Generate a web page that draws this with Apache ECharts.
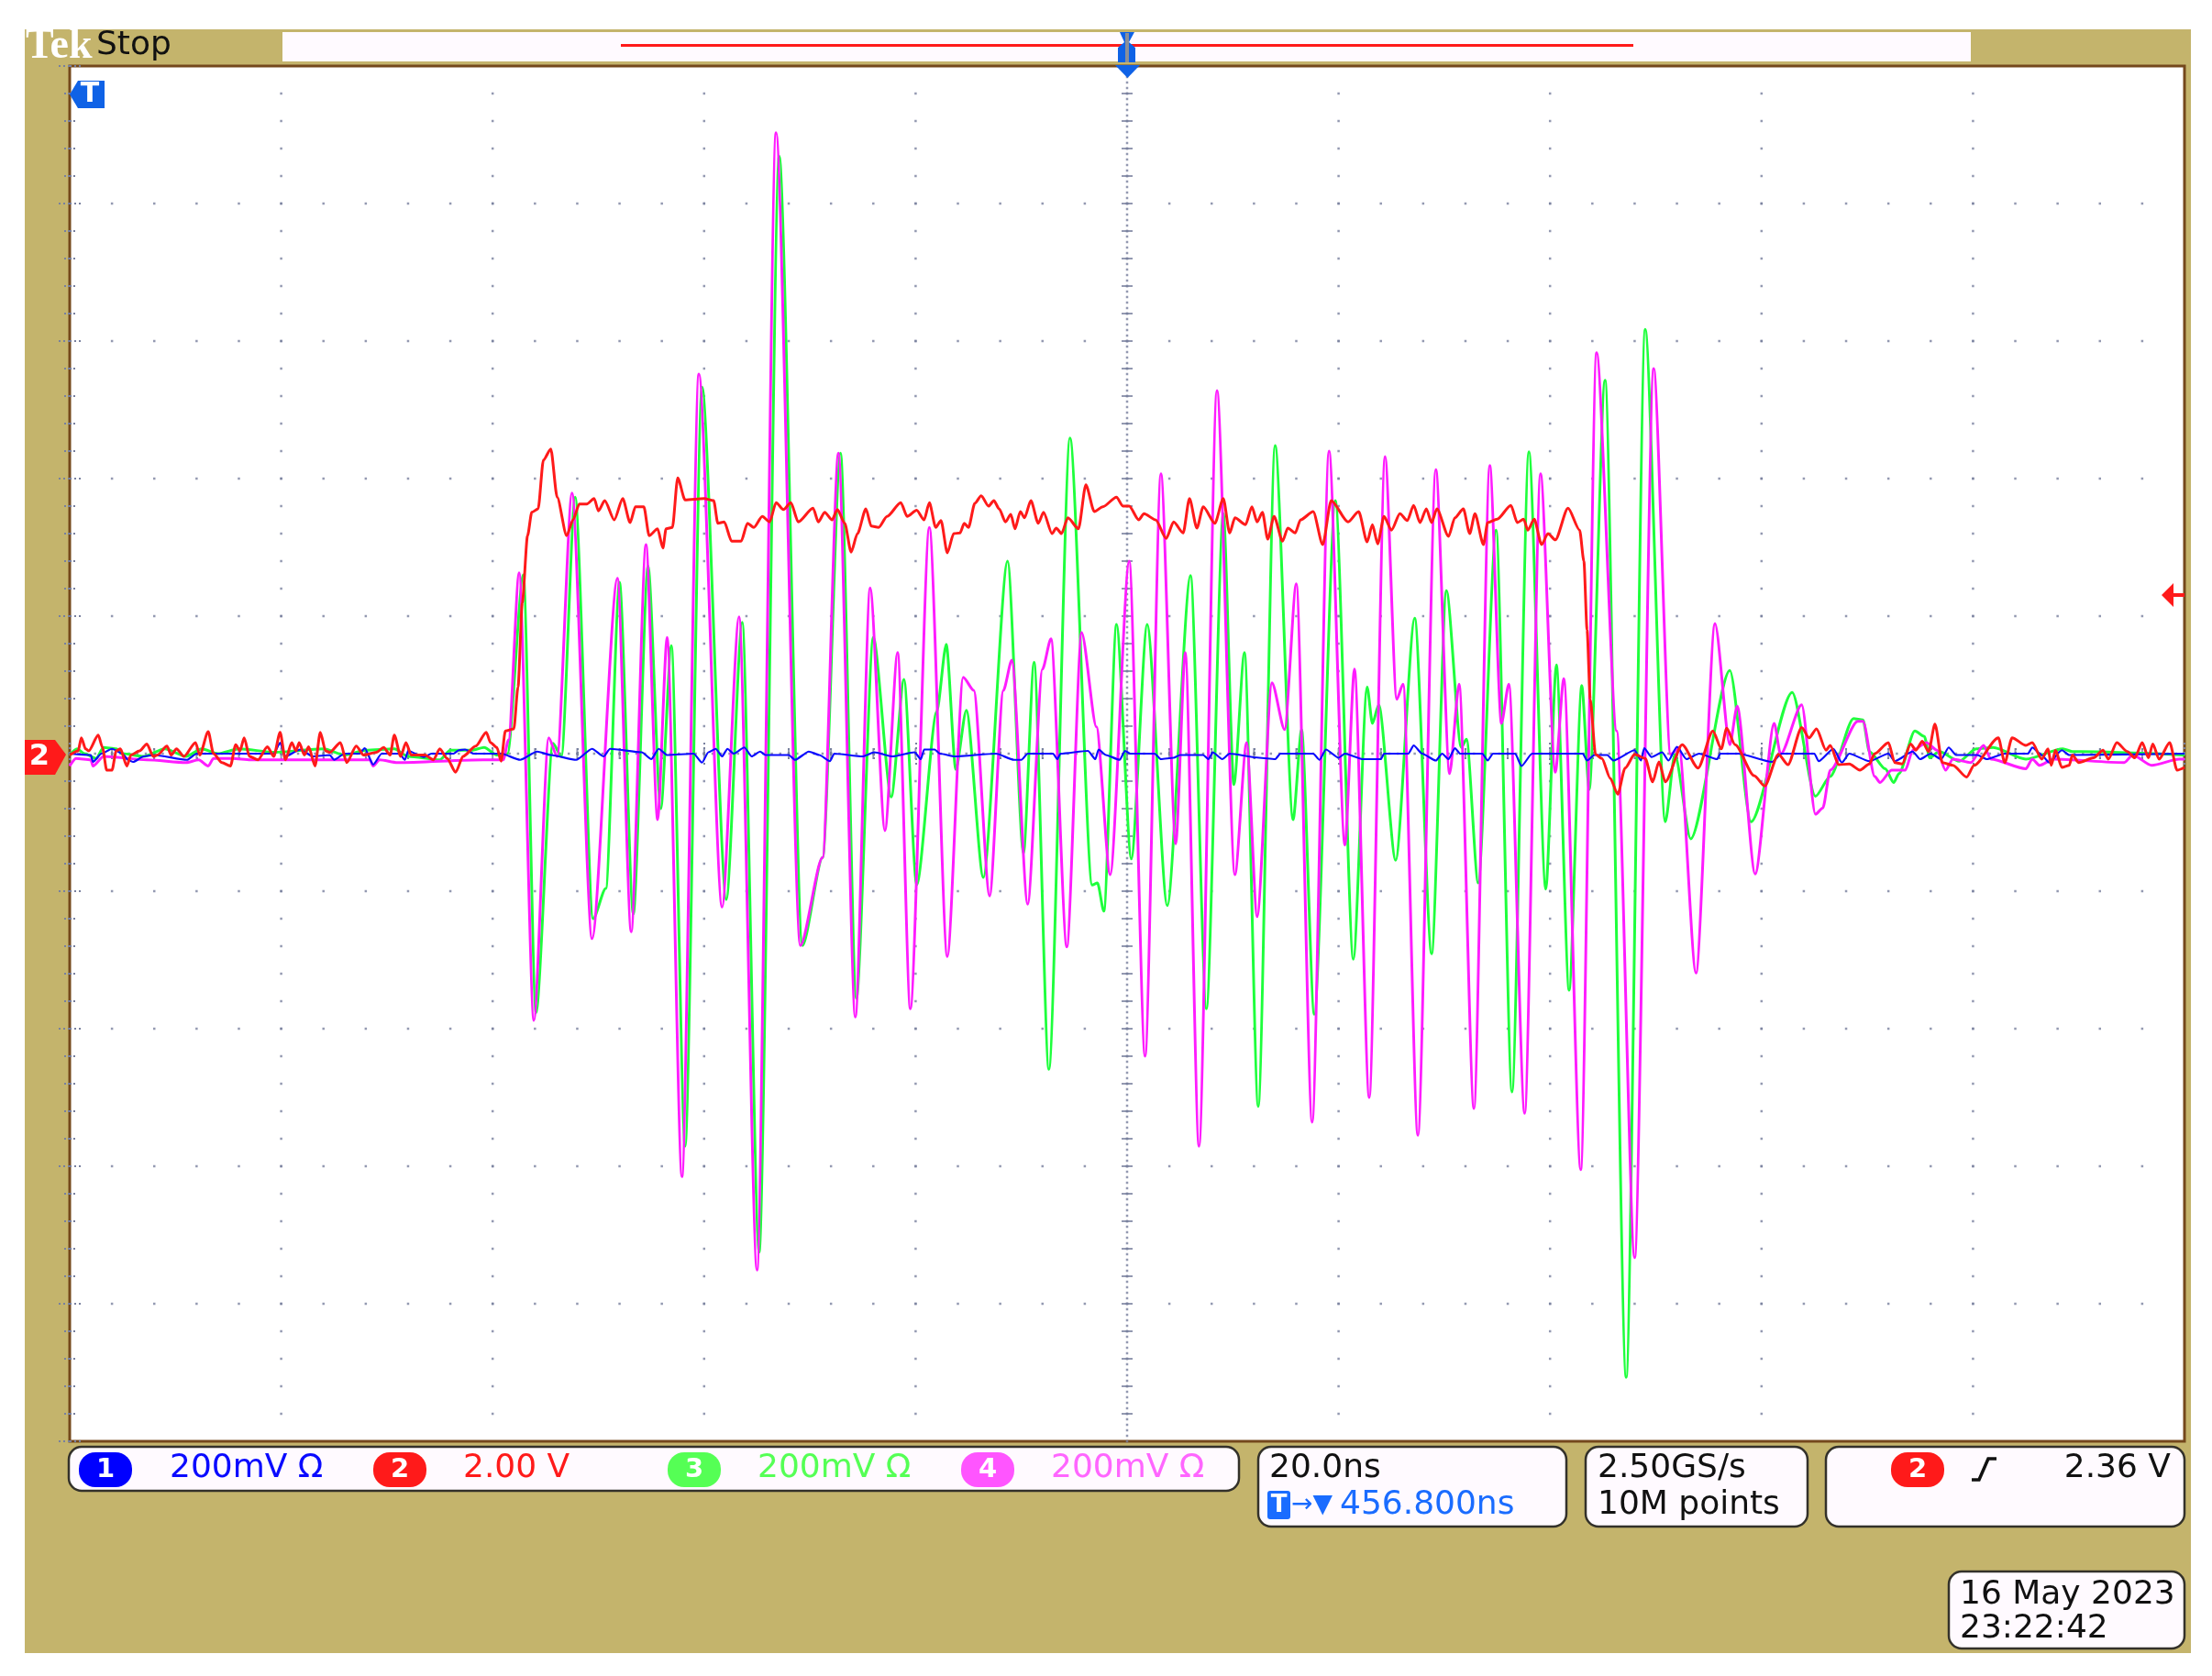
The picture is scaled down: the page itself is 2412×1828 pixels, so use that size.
<!DOCTYPE html>
<html>
<head>
    <title>Tek scope capture</title>
    <meta charset="utf-8"/>
    <script src="https://cdn.jsdelivr.net/npm/echarts@6/dist/echarts.min.js"></script>
    <style>
        html, body { margin: 0; padding: 0; background: #fff; }
        #myChart { width: 2412px; height: 1828px; }
    </style>
</head>
<body>
<div id="myChart"></div>
<script type="text/javascript">
    // all traces are [time ns, value]. CH1/3/4 in mV, CH2 in V
    var timeRange = [0, 200];
    var timeStep = 20;
    var mvRange = [-1000, 1000];
    var mvStep = 200;
    var voltRange = [-10, 10];
    var voltStep = 2;
    var triggerLevel = 2.36;

    var ch1Points = [[0,0],[2,-2],[2.2,-12],[3,0],[4,7],[5,0],[5.5,-9],[6,-12],[7,-4],[8,-2],[11.1,-9],[12,0],[19.3,0],[19.9,16],[20.4,-4],[21.8,6],[23,-4],[24.6,-2],[25,-9],[26,0],[27.4,0],[27.9,8],[28.7,-16],[29.5,0],[31.2,0],[31.7,-9],[32,4],[33.5,-5],[34.2,0],[36.3,0],[36.8,5],[37.4,6],[38.2,0],[40.8,0],[42.6,-9],[44.2,3],[45.5,-2],[47.9,-9],[49.4,7],[50.5,-4],[51.1,7],[54.1,2],[55,-8],[55.7,7],[56.5,-2],[59,0],[59.8,-13],[60.4,2],[61.1,7],[61.7,-4],[62.2,7],[62.8,0],[63.8,9],[64.5,-4],[65.3,3],[65.8,-2],[68,-2],[68.6,-9],[69.9,3],[70.9,-2],[71.9,-11],[72.3,0],[75,-4],[76.1,2],[77.8,-4],[79.9,2],[80.5,-8],[80.8,6],[81.8,6],[82.3,0],[83.7,-4],[87.6,0],[89.3,-9],[90,-9],[90.6,0],[93,0],[93.4,-8],[93.7,0],[96.3,4],[97,-8],[97.3,6],[98,-2],[99.3,-9],[99.8,4],[100.3,0],[102.6,0],[103.2,-8],[104.4,-6],[105,-2],[107.2,-2],[107.7,-8],[108.1,2],[109,-8],[109.7,0],[112.5,-6],[114,-8],[114.5,0],[117.6,0],[118.2,-9],[118.8,6],[120,-6],[120.6,0],[122.3,-8],[124,-8],[124.3,0],[126.6,0],[127.1,12],[127.9,0],[129.2,-10],[129.8,0],[130.4,-8],[131,8],[131.5,0],[133.6,0],[134.1,-10],[134.6,0],[136.7,0],[137.3,-18],[138.3,0],[143.1,0],[143.5,-10],[144.2,-2],[145.4,-2],[146,-10],[148,5],[148.6,-10],[148.9,8],[149.6,-5],[150.6,2],[151.2,-10],[152,10],[152.9,-8],[154.1,0],[155.8,-8],[156.1,0],[157.8,0],[161,-12],[161.9,0],[165,0],[165.4,-11],[166.8,7],[167.6,-13],[168.3,0],[170.2,-11],[172,0],[172.6,-11],[174.3,3],[175,-8],[176,0],[177,-8],[177.7,9],[178.4,-2],[180.4,-2],[181.3,-8],[183,0],[185.2,0],[185.6,9],[186.5,-2],[187.2,-13],[188.4,5],[189.1,-2],[200,0]];

    var ch2Points = [[0,-0.02],[0.8,0.04],[1.1,0.23],[1.5,0.07],[1.8,0.04],[2.7,0.27],[3.1,0.09],[3.5,-0.24],[4,-0.24],[4.4,0.04],[4.8,0.07],[5.4,-0.18],[5.8,-0.02],[6.6,0.04],[7.3,0.14],[7.9,-0.04],[8.3,-0.02],[9.2,0.11],[9.6,-0.02],[10.1,0.07],[10.8,-0.04],[11.9,0.16],[12.3,-0.02],[13.1,0.32],[13.6,0],[14.4,-0.13],[15.2,-0.18],[15.7,0.13],[16.1,0.04],[16.5,0.23],[17,-0.04],[17.8,-0.09],[18.7,0.1],[19.3,-0.04],[19.9,0.31],[20.4,-0.09],[21,0.16],[21.4,0.04],[21.7,0.16],[22.2,-0.02],[22.6,0.1],[23.2,-0.18],[23.7,0.31],[24.2,0.04],[24.6,0.02],[25.6,0.16],[26.2,-0.13],[27.1,0.11],[27.8,-0.02],[29,0.02],[29.7,0.09],[30.3,-0.02],[30.7,0.27],[31.3,-0.04],[31.8,0.16],[32.3,-0.02],[33.6,-0.02],[34.4,-0.09],[35,0.07],[35.7,-0.07],[36.5,-0.27],[37.2,-0.04],[38.4,0.11],[39.4,0.31],[39.8,0.16],[40.4,0.09],[40.8,-0.11],[41.2,0.33],[42,0.36],[42.4,0.97],[42.8,2.19],[43.3,3.17],[43.7,3.51],[44.3,3.56],[44.8,4.27],[45.5,4.43],[46.1,3.73],[47,3.17],[47.6,3.4],[48.2,3.63],[48.9,3.63],[49.6,3.71],[50,3.53],[50.6,3.68],[51.5,3.4],[52.3,3.71],[53,3.36],[53.5,3.59],[54.3,3.59],[54.8,3.17],[55.6,3.27],[56.1,2.99],[56.4,3.27],[57,3.29],[57.5,4.01],[58.2,3.69],[60,3.71],[60.9,3.68],[61.3,3.35],[61.9,3.37],[62.6,3.09],[63.5,3.09],[64.1,3.35],[64.7,3.29],[65.5,3.45],[66.2,3.37],[66.8,3.65],[67.5,3.55],[68.2,3.65],[68.9,3.37],[70.3,3.57],[70.8,3.37],[71.4,3.51],[72.1,3.4],[72.6,3.55],[73.3,3.35],[73.9,2.93],[74.5,3.2],[75.3,3.56],[75.8,3.31],[76.5,3.29],[77.3,3.45],[78.6,3.65],[79.2,3.45],[80.1,3.54],[80.8,3.4],[81.3,3.65],[81.9,3.29],[82.4,3.39],[83,2.92],[83.6,3.2],[84.2,3.21],[84.6,3.35],[85,3.29],[85.6,3.64],[86.2,3.75],[86.9,3.6],[87.4,3.68],[87.9,3.56],[88.5,3.37],[89,3.48],[89.4,3.27],[89.9,3.52],[90.3,3.43],[90.9,3.68],[91.6,3.35],[92.1,3.51],[92.9,3.2],[93.3,3.28],[93.8,3.2],[94.4,3.43],[95.4,3.27],[96.1,3.91],[96.9,3.52],[97.7,3.59],[99,3.73],[99.6,3.6],[100.2,3.6],[101.1,3.4],[101.6,3.49],[102.7,3.4],[103.7,3.13],[104.4,3.37],[105.3,3.21],[105.9,3.71],[106.6,3.28],[107.2,3.59],[108.3,3.35],[109.1,3.71],[109.7,3.21],[110.2,3.43],[111.2,3.33],[111.8,3.59],[112.3,3.37],[112.8,3.51],[113.3,3.12],[113.9,3.45],[114.7,3.09],[115.2,3.28],[115.9,3.21],[116.4,3.4],[117.6,3.52],[118.5,3.04],[119.3,3.68],[120.9,3.37],[121.9,3.52],[122.7,3.08],[123.2,3.33],[123.7,3.05],[124.3,3.45],[125,3.25],[125.8,3.49],[126.5,3.39],[127.1,3.61],[127.7,3.36],[128.3,3.56],[128.8,3.36],[129.3,3.56],[130.4,3.16],[131,3.43],[131.8,3.56],[132.4,3.2],[132.9,3.49],[133.7,3.04],[134.1,3.36],[135,3.41],[136.3,3.61],[136.9,3.36],[137.5,3.41],[137.9,3.25],[138.5,3.41],[139.2,3.04],[139.8,3.2],[140.5,3.11],[141.7,3.57],[142.8,3.25],[143.2,2.8],[143.5,1.8],[143.8,0.79],[144.3,-0.01],[144.9,-0.07],[145.7,-0.36],[146.4,-0.59],[147.1,-0.21],[148,-0.01],[149,-0.07],[149.7,-0.41],[150.3,-0.12],[150.9,-0.41],[152.5,0.13],[154,-0.21],[155.4,0.33],[156.2,0.07],[156.7,0.37],[157.5,0.13],[159.3,-0.32],[160.3,-0.47],[161.6,-0.01],[162.5,-0.16],[163.8,0.38],[164.5,0.23],[165.2,0.36],[166.1,0.05],[166.5,0.12],[167.3,-0.16],[168.3,-0.15],[169.3,-0.24],[170.2,-0.15],[170.7,0],[172,0.16],[172.6,-0.13],[173.3,-0.15],[174.1,0.14],[174.6,0.05],[175.2,0.18],[175.8,0.03],[176.4,0.43],[177.1,-0.13],[178.1,-0.17],[179.4,-0.34],[180.1,-0.17],[182.4,0.23],[183,-0.13],[183.7,0.23],[185,0.12],[185.6,0.16],[186.5,-0.08],[187.1,0.07],[187.4,-0.17],[187.8,0.05],[188.4,-0.2],[189.1,-0.17],[189.4,-0.02],[190,-0.13],[191.4,-0.06],[192.3,0.05],[192.8,-0.08],[193.6,0.16],[194.6,0.03],[195.3,-0.06],[196,0.16],[196.6,-0.06],[197,0.14],[197.6,-0.08],[198.6,0.16],[199.3,-0.24],[200,-0.2]];

    var ch3Points = [[0,-2],[0.7,7],[1.4,0],[2.5,-7],[3.2,9],[4.4,7],[5,0],[7,-4],[9,7],[11,-4],[12.5,7],[14,0],[16,7],[19.4,2],[24,7],[26,-2],[28,5],[30.7,7],[32,-4],[35,-9],[36,5],[38,5],[39.2,9],[40.4,-2],[41.4,0],[42.9,260],[44.1,-377],[45.7,15],[46.5,-4],[47.8,373],[49.5,-240],[50.7,-196],[52,249],[53.3,-233],[54.7,273],[55.9,-80],[56.9,157],[58.2,-571],[59.8,533],[62.1,-212],[63.6,191],[65.2,-725],[67.1,869],[69.3,-279],[71.2,-151],[72.9,437],[74.4,-356],[76,169],[77.7,-63],[78.9,108],[80.1,-191],[82,61],[82.9,159],[83.8,-23],[84.8,63],[86.4,-180],[88.7,280],[90.2,-145],[91.2,133],[92.6,-459],[94.6,459],[96.7,-191],[97.2,-188],[97.8,-229],[99,188],[100.4,-153],[101.9,188],[103.8,-221],[106,259],[107.5,-371],[109.1,349],[110.1,-45],[111.1,147],[112.4,-513],[114,448],[115.7,-96],[116.5,35],[117.7,-379],[119.7,368],[121.4,-299],[122.7,97],[123.2,44],[123.8,71],[125.4,-155],[127.2,197],[128.8,-291],[130.2,237],[131.6,9],[132.1,21],[133.2,-188],[134.9,325],[136.4,-492],[138,439],[139.6,-197],[140.6,129],[141.8,-344],[143,99],[143.7,-52],[145.2,543],[147.2,-907],[149,617],[150.9,-99],[151.8,-1],[153.3,-124],[157,121],[159,-99],[162.9,89],[165.1,-62],[166.5,-33],[168.7,51],[169.6,49],[170.2,3],[171.7,-22],[172.5,-42],[173,-29],[174.5,33],[175.4,25],[175.9,-6],[176.8,3],[178.7,-11],[180.3,7],[181.9,9],[185,-8],[188.5,7],[189.4,3],[190.2,3],[200,-2]];

    var ch4Points = [[0,-18],[0.6,-7],[2,-9],[2.2,-18],[3.2,-4],[7.3,-9],[11,-13],[12.2,-9],[13.1,-18],[13.6,-7],[15.4,-7],[17.1,-9],[19.4,-9],[23.2,-9],[28.4,-9],[28.7,-18],[29.3,-9],[31,-13],[39.1,-9],[41,-9],[41.5,20],[42.5,263],[43.9,-388],[45.3,23],[46.1,-4],[47.5,379],[49.4,-269],[51.8,255],[53.1,-259],[54.5,304],[55.6,-96],[56.5,169],[57.9,-615],[59.5,552],[61.7,-223],[63.3,199],[65,-751],[66.8,903],[69.1,-279],[71.2,-151],[72.7,437],[74.3,-383],[75.7,241],[77.1,-112],[78.3,147],[79.5,-371],[81.3,329],[83,-295],[84.5,111],[85.5,92],[87,-207],[88.3,92],[89.1,136],[90.6,-219],[92,123],[92.8,167],[94.3,-281],[95.7,176],[97.1,39],[98.4,-176],[100.2,280],[101.7,-440],[103.2,407],[104.6,-131],[105.5,147],[106.8,-571],[108.5,528],[110.2,-176],[111.3,16],[112.3,-237],[113.7,103],[114.9,35],[116,247],[117.5,-536],[119.1,440],[120.6,-133],[121.5,123],[122.9,-500],[124.4,432],[125.5,79],[126.1,101],[127.5,-555],[129.2,413],[130.5,-29],[131.4,101],[132.8,-516],[134.3,419],[135.4,44],[136.1,101],[137.6,-523],[139.1,407],[140.5,-27],[141.3,109],[142.9,-605],[144.4,583],[146.3,33],[148,-733],[149.8,560],[151.4,-1],[152.2,9],[153.8,-319],[155.6,189],[157,13],[157.7,69],[159.4,-175],[161.2,44],[161.8,-1],[163.8,71],[165.1,-88],[165.8,-79],[166.5,-24],[169.1,47],[169.6,47],[170.7,-33],[171.2,-42],[172.3,-24],[173.6,-24],[174.3,5],[175.6,16],[176.6,5],[177.4,-24],[178.1,-8],[179.8,-13],[181,12],[181.7,-8],[185,-22],[185.6,-8],[186.3,-17],[187.6,-8],[194.3,-13],[195.1,-2],[196.9,-17],[199.5,-8],[200,-8]];

    var TAN = '#c4b46c';
    var PAPER = '#fffaff';
    var BLUE = '#0a0aff';
    var RED = '#ff1a1a';
    var GREEN = '#1eff3c';
    var MAGENTA = '#ff1cff';
    var FONT = '"DejaVu Sans"';
    var DOT = '#78809e';

    // graticule: dots on the division lines, denser on the centre cross
    var graticule = [], centreDots = [], centreVTicks = [], centreHTicks = [];
    var t, v;
    for (t = timeRange[0] + timeStep; t < timeRange[1]; t += timeStep) {
        for (v = mvRange[0] + mvStep / 5; v < mvRange[1]; v += mvStep / 5) {
            graticule.push([t, v]);
        }
    }
    for (v = mvRange[0] + mvStep; v < mvRange[1]; v += mvStep) {
        for (t = timeRange[0] + timeStep / 5; t < timeRange[1]; t += timeStep / 5) {
            graticule.push([t, v]);
        }
    }
    for (v = mvRange[0]; v <= mvRange[1]; v += 8) { centreDots.push([100, v]); }
    for (t = timeRange[0]; t <= timeRange[1]; t += 0.8) { centreDots.push([t, 0]); }
    for (v = mvRange[0] + mvStep / 5; v < mvRange[1]; v += mvStep / 5) { centreVTicks.push([100, v]); }
    for (t = timeRange[0] + timeStep / 5; t < timeRange[1]; t += timeStep / 5) { centreHTicks.push([t, 0]); }

    var dotSeries = function (data, size) {
        return {
            type: 'scatter', data: data, symbol: 'rect', symbolSize: size, silent: true,
            itemStyle: { color: DOT }, animation: false, z: 1
        };
    };
    var traceSeries = function (data, color, width, yIndex, smooth, z) {
        return {
            type: 'line', data: data, yAxisIndex: yIndex, showSymbol: false, silent: true,
            smooth: smooth, smoothMonotone: 'x', z: z,
            lineStyle: { color: color, width: width, join: 'round' }
        };
    };
    var tickStyle = {
        axisLine: { show: false },
        axisLabel: { show: false },
        splitLine: { show: false },
        minorSplitLine: { show: false },
        axisTick: { show: true, inside: true, length: 15, lineStyle: { color: DOT, width: 2, type: [2, 3] } },
        minorTick: { show: true, splitNumber: 5, length: 7, lineStyle: { color: DOT, width: 2, type: [2, 2] } }
    };
    var makeXAxis = function (pos) {
        return Object.assign({ type: 'value', position: pos, min: timeRange[0], max: timeRange[1], interval: timeStep }, tickStyle);
    };
    var makeYAxis = function (pos, range, step) {
        return Object.assign({ type: 'value', position: pos, min: range[0], max: range[1], interval: step }, tickStyle);
    };

    // ---- scope furniture around the plot ----
    var label = function (x, y, text, color, size, extra) {
        return {
            type: 'text', x: x, y: y, z: 20,
            style: Object.assign({
                text: text, fill: color, font: (size || 36) + 'px ' + FONT, textVerticalAlign: 'middle'
            }, extra || {})
        };
    };
    var box = function (x, y, w, h) {
        return {
            type: 'rect', z: 10, shape: { x: x, y: y, width: w, height: h, r: 14 },
            style: { fill: PAPER, stroke: '#33312a', lineWidth: 2.5 }
        };
    };
    var badge = function (cx, cy, num, color) {
        return [{
            type: 'rect', z: 15, shape: { x: cx - 29, y: cy - 19, width: 58, height: 38, r: 18 },
            style: { fill: color }
        }, label(cx, cy, num, '#fff', 29, { textAlign: 'center', font: 'bold 29px ' + FONT })];
    };

    var furniture = [
        { type: 'rect', z: -1, shape: { x: 27, y: 32, width: 2362, height: 1771 }, style: { fill: TAN } },
        { type: 'rect', z: 1, shape: { x: 308, y: 35, width: 1841, height: 32 }, style: { fill: PAPER } },
        { type: 'rect', z: 2, shape: { x: 677, y: 48, width: 1104, height: 3 }, style: { fill: RED } },
        label(28, 51, 'Tek', '#fff', 46, { font: 'bold 46px "Liberation Serif"' }),
        label(105, 50, 'Stop', '#111', 36),

        // trigger position flag
        { type: 'polygon', z: 12, shape: { points: [[1221, 35], [1237, 35], [1231, 46], [1238, 52], [1238, 68], [1219, 68], [1219, 52], [1226, 46]] }, style: { fill: '#0f62e6' } },
        { type: 'rect', z: 13, shape: { x: 1227, y: 36, width: 4, height: 32 }, style: { fill: '#8a8f98' } },
        { type: 'polygon', z: 12, shape: { points: [[1216, 71], [1243, 71], [1229.5, 85]] }, style: { fill: '#0f62e6' } },

        // T marker top left
        { type: 'polygon', z: 12, shape: { points: [[76, 103], [85, 88], [114, 88], [114, 118], [85, 118]] }, style: { fill: '#0f62e6' } },
        label(98, 103, 'T', '#fff', 30, { textAlign: 'center', font: 'bold 30px ' + FONT }),

        // ch2 ground marker, trigger level arrow
        { type: 'polygon', z: 12, shape: { points: [[27, 807], [60, 807], [72, 823], [60, 845], [27, 845]] }, style: { fill: RED } },
        label(43, 826, '2', '#fff', 32, { textAlign: 'center', font: 'bold 32px ' + FONT }),
        { type: 'polygon', z: 12, shape: { points: [[2357, 649], [2370, 636], [2370, 647], [2382, 647], [2382, 651], [2370, 651], [2370, 662]] }, style: { fill: RED } },

        // readout boxes
        box(75, 1578, 1276, 48),
        label(185, 1602, '200mV Ω', BLUE),
        label(505, 1602, '2.00 V', RED),
        label(826, 1602, '200mV Ω', '#55ff55'),
        label(1146, 1602, '200mV Ω', '#ff66ff'),
        box(1372, 1578, 336, 87),
        label(1384, 1602, '20.0ns', '#111'),
        { type: 'rect', z: 15, shape: { x: 1382, y: 1626, width: 25, height: 31, r: 3 }, style: { fill: '#1a6cff' } },
        label(1394.5, 1642, 'T', '#fff', 26, { textAlign: 'center', font: 'bold 26px ' + FONT }),
        label(1408, 1642, '→▼', '#1a6cff', 28),
        label(1461, 1642, '456.800ns', '#1a6cff'),
        box(1729, 1578, 242, 87),
        label(1742, 1602, '2.50GS/s', '#111'),
        label(1742, 1642, '10M points', '#111'),
        box(1991, 1578, 391, 87),
        { type: 'polyline', z: 15, shape: { points: [[2150, 1614], [2158, 1614], [2168, 1591], [2177, 1591]] }, style: { stroke: '#111', lineWidth: 3.5, fill: null } },
        label(2367, 1602, triggerLevel.toFixed(2) + ' V', '#111', 36, { textAlign: 'right' }),
        box(2125, 1714, 257, 84),
        label(2137, 1740, '16 May 2023', '#111'),
        label(2137, 1777, '23:22:42', '#111')
    ];
    furniture = furniture
        .concat(badge(115, 1603, '1', '#0000ff'))
        .concat(badge(436, 1603, '2', RED))
        .concat(badge(757, 1603, '3', '#55ff55'))
        .concat(badge(1077, 1603, '4', '#ff55ff'))
        .concat(badge(2091, 1603, '2', RED));

    var myChart = echarts.init(document.getElementById('myChart'), null, { renderer: 'canvas' });
    var option = {
        animation: false,
        backgroundColor: '#ffffff',
        tooltip: { show: false },
        grid: {
            show: true, left: 76, top: 72, width: 2306, height: 1500,
            backgroundColor: '#ffffff', borderColor: '#74481c', borderWidth: 3
        },
        xAxis: [makeXAxis('bottom'), makeXAxis('top')],
        yAxis: [makeYAxis('left', mvRange, mvStep), makeYAxis('right', voltRange, voltStep)],
        graphic: { elements: furniture },
        series: [
            dotSeries(graticule, 2.5),
            dotSeries(centreDots, 2.5),
            dotSeries(centreVTicks, [12, 2]),
            dotSeries(centreHTicks, [2, 12]),
            traceSeries(ch3Points, GREEN, 3, 0, 0.25, 3),
            traceSeries(ch4Points, MAGENTA, 3, 0, 0.25, 4),
            traceSeries(ch1Points, BLUE, 2.2, 0, 0.2, 5),
            traceSeries(ch2Points, RED, 3, 1, 0.25, 6)
        ]
    };
    myChart.setOption(option);
</script>
</body>
</html>
